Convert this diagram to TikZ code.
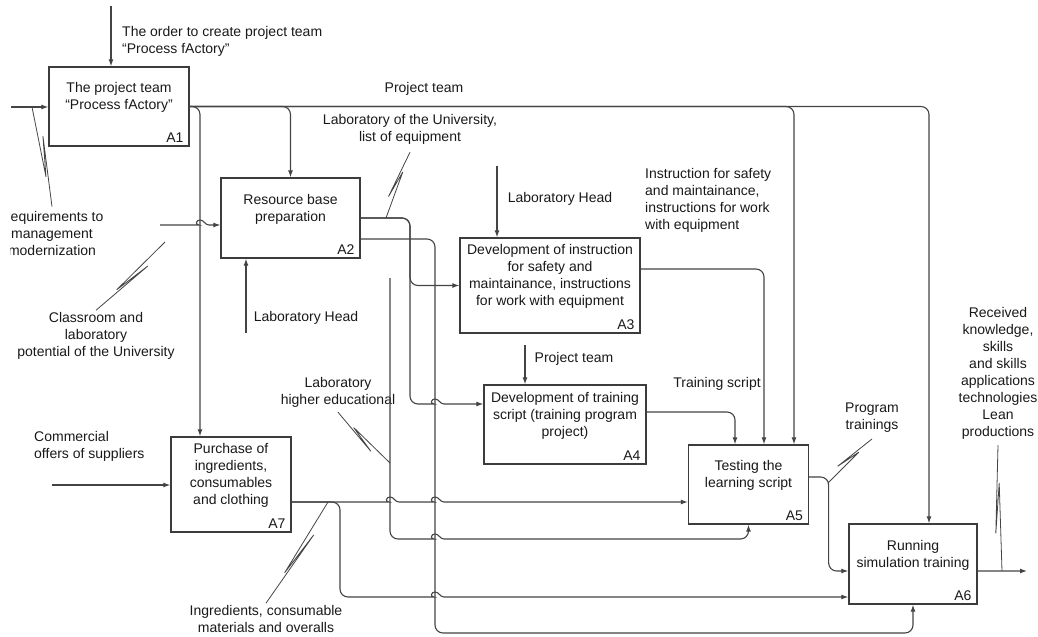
\documentclass[tikz,border=0pt]{standalone}
\usepackage{fontspec}
\setmainfont{Liberation Sans}
\usetikzlibrary{arrows.meta,positioning,calc}
\definecolor{linegray}{RGB}{68,68,68}
\definecolor{boxgray}{RGB}{60,60,60}
\definecolor{inkblack}{RGB}{25,25,25}
% small hop where a line crosses another one
\newcommand{\linehop}[2]{-- ({#1-9},#2) [sharp corners] .. controls ({#1-5},#2) and ({#1-4},{#2-5}) .. (#1,{#2-5}) .. controls ({#1+4},{#2-5}) and ({#1+5},#2) .. ({#1+9},#2) -- ({#1+18},#2) [rounded corners=8bp]}
\tikzset{
    % Activity box styles
    activity/.style={
        rectangle, draw=boxgray, line width=1.3bp, fill=white,
        inner sep=0pt
    },
    boxtext/.style={
        align=center, inner sep=0pt, text=inkblack
    },
    boxnum/.style={
        inner sep=0pt, text=inkblack
    },
    % Arrow labels and connectors
    tag/.style={
        align=center, inner sep=0pt, text=inkblack
    },
    flow/.style={
        ->, draw=linegray, line width=1.1bp, rounded corners=8bp
    },
    squiggle/.style={
        draw=linegray, line width=0.8bp,
        to path={-- ($(\tikztostart)!0.7!(\tikztotarget)$)
                 -- ($(\tikztostart)!0.3!(\tikztotarget)!5bp!90:(\tikztotarget)$)
                 -- (\tikztotarget)}
    }
}
\begin{document}
\begin{tikzpicture}[x=1bp, y=-1bp, >={Latex[length=7bp,width=5bp]},
    font=\fontsize{14bp}{17bp}\selectfont]
\useasboundingbox (0,0) rectangle (1038,637);

% Activity boxes
\node[activity, minimum width=140bp, minimum height=79bp] (a1) at (119,106.5) {};
\node[activity, minimum width=139bp, minimum height=80bp] (a2) at (290.5,218) {};
\node[activity, minimum width=180bp, minimum height=95bp] (a3) at (550,285.5) {};
\node[activity, minimum width=162bp, minimum height=79bp] (a4) at (565,424.5) {};
\node[activity, minimum width=120bp, minimum height=79bp] (a5) at (748.5,484.5) {};
\node[activity, minimum width=128bp, minimum height=80bp] (a6) at (913,564) {};
\node[activity, minimum width=120bp, minimum height=95bp] (a7) at (231,484.5) {};

\node[boxtext] (a1t) at ([yshift=9bp]a1.center) {The project team\\“Process fActory”};
\node[boxtext] (a2t) at ([yshift=9bp]a2.center) {Resource base\\preparation};
\node[boxtext] (a3t) at ([yshift=9bp]a3.center) {Development of instruction\\for safety and\\maintainance, instructions\\for work with equipment};
\node[boxtext] (a4t) at ([yshift=9bp]a4.center) {Development of training\\script (training program\\project)};
\node[boxtext] (a5t) at ([yshift=9bp]a5.center) {Testing the\\learning script};
\node[boxtext] (a6t) at ([yshift=9bp]a6.center) {Running\\simulation training};
\node[boxtext] (a7t) at ([yshift=9bp]a7.center) {Purchase of\\ingredients,\\consumables\\and clothing};

\node[boxnum, above left=4bp and 6bp of a1.south east] (a1n) {A1};
\node[boxnum, above left=4bp and 6bp of a2.south east] (a2n) {A2};
\node[boxnum, above left=4bp and 6bp of a3.south east] (a3n) {A3};
\node[boxnum, above left=4bp and 6bp of a4.south east] (a4n) {A4};
\node[boxnum, above left=4bp and 6bp of a5.south east] (a5n) {A5};
\node[boxnum, above left=4bp and 6bp of a6.south east] (a6n) {A6};
\node[boxnum, above left=4bp and 6bp of a7.south east] (a7n) {A7};

% Ports
\coordinate (a7ctl) at ([xshift=-31bp]a7.north);
\coordinate (a5ctl1) at ([xshift=-13.5bp]a5.north);
\coordinate (a5ctl2) at ([xshift=15.5bp]a5.north);
\coordinate (a5ctl3) at ([xshift=45.5bp]a5.north);
\coordinate (a6ctl) at ([xshift=16bp]a6.north);
\coordinate (a2out) at ([yshift=-21bp]a2.east);
\coordinate (a3out) at ([yshift=16.5bp]a3.east);
\coordinate (a4in) at ([yshift=20.5bp]a4.west);
\coordinate (a4out) at ([yshift=12.5bp]a4.east);
\coordinate (a5in) at ([yshift=-17.5bp]a5.west);
\coordinate (a5out) at ([yshift=7.5bp]a5.east);
\coordinate (a6in1) at ([yshift=-7bp]a6.west);
\coordinate (a6in2) at ([yshift=-33bp]a6.west);
\coordinate (a6out) at ([yshift=-7bp]a6.east);
\coordinate (a7out) at ([yshift=-17.5bp]a7.east);

% A1: control and input
\node[tag, anchor=west, align=left] (orderLbl) at (122,41) {The order to create project team\\“Process fActory”};
\coordinate (orderTop) at (111,6);
\draw[flow] (orderTop) -- (orderTop |- a1.north);

\begin{scope}
\clip (10.5,190) rectangle (200,270);
\node[tag] (reqLbl) at (52,233) {Requirements to\\management\\modernization};
\end{scope}
\coordinate (reqIn) at (11,107);
\coordinate (reqTap) at (32,107);
\draw[flow] (reqIn) -- (reqIn -| a1.west);
\draw[squiggle] (reqTap) to ([yshift=4bp]reqLbl.north);

% A1 output: project team
\node[tag] (teamLbl) at (424,89) {Project team};
\draw[flow] (a1.east) -| (a6ctl);
\draw[flow] (a1.east) -| (a7ctl);
\draw[flow] (a1.east) -| (a2.north);
\draw[flow] (a1.east) -| (a5ctl3);

% A2
\node[tag] (classLbl) at (96,336) {Classroom and\\laboratory\\potential of the University};
\coordinate (classIn) at (160,225);
\coordinate (classTap) at (165,242);
\draw[flow] (classIn) \linehop{200}{225} [sharp corners] -- (classIn -| a2.west);
\draw[squiggle] (classTap) to ([yshift=2bp]classLbl.north);

\node[tag] (lh2Lbl) at (306,318) {Laboratory Head};
\coordinate (lh2) at (246,333);
\draw[flow] (lh2) -- (lh2 |- a2.south);

\node[tag] (labUniLbl) at (410,129) {Laboratory of the University,\\list of equipment};
\coordinate (labUniTap) at (386,218);
\draw[flow] (a2.east) -- (410,218) |- (a3.west);
\draw[flow] (a2.east) -- (410,218) -- (410,404) \linehop{435}{404} -- (a4in);
\draw[flow] (a2out) -- (435,239) -- (435,633) -| (a6.south);
\draw[squiggle] (labUniTap) to ([yshift=-8bp]labUniLbl.south);

% Laboratory of higher education
\node[tag] (lheLbl) at (338,392) {Laboratory\\higher educational};
\coordinate (lheTop) at (390,278);
\coordinate (lheTap) at (390,463);
\draw[flow] (lheTop) -- (390,539) \linehop{435}{539} -| (a5.south);
\draw[squiggle] (lheTap) to ([yshift=-5bp]lheLbl.south);

% A3
\node[tag] (lh3Lbl) at (560,199) {Laboratory Head};
\coordinate (lh3) at (497,166);
\draw[flow] (lh3) -- (lh3 |- a3.north);
\node[tag, anchor=west, align=left] (instrLbl) at (645,200.5) {Instruction for safety\\and maintainance,\\instructions for work\\with equipment};
\draw[flow] (a3out) -| (a5ctl2);

% A4
\node[tag] (pt4Lbl) at (574,359) {Project team};
\coordinate (pt4) at (525,345);
\draw[flow] (pt4) -- (pt4 |- a4.north);
\node[tag] (scriptLbl) at (717,384) {Training script};
\draw[flow] (a4out) -| (a5ctl1);

% A5 -> A6
\node[tag] (progLbl) at (872,418) {Program\\trainings};
\coordinate (progTap) at (828,483);
\draw[flow] (a5out) -- ++(19.5,0) |- (a6in1);
\draw[squiggle] (progTap) to ([yshift=-6bp]progLbl.south);

% A6 output
\node[tag] (recLbl) at (998,373) {Received\\knowledge,\\skills\\and skills\\applications\\technologies\\Lean\\productions};
\coordinate (a6end) at (1027,571);
\coordinate (recTap) at (1002,571);
\draw[flow] (a6out) -- (a6end);
\draw[squiggle] (recTap) to ([yshift=-6bp]recLbl.south);

% A7
\node[tag, anchor=west, align=left] (comLbl) at (34,446) {Commercial\\offers of suppliers};
\coordinate (comIn) at (52,485);
\draw[flow] (comIn) -- (comIn -| a7.west);

\node[tag] (ingLbl) at (266,619) {Ingredients, consumable\\materials and overalls};
\coordinate (ingTap) at (328,502);
\draw[flow] (a7out) \linehop{390}{502} \linehop{435}{502} -- (a5in);
\draw[flow] (a7out) -| (340,597) \linehop{435}{597} -- (a6in2);
\draw[squiggle] (ingTap) to ([yshift=2bp]ingLbl.north);

\end{tikzpicture}
\end{document}
